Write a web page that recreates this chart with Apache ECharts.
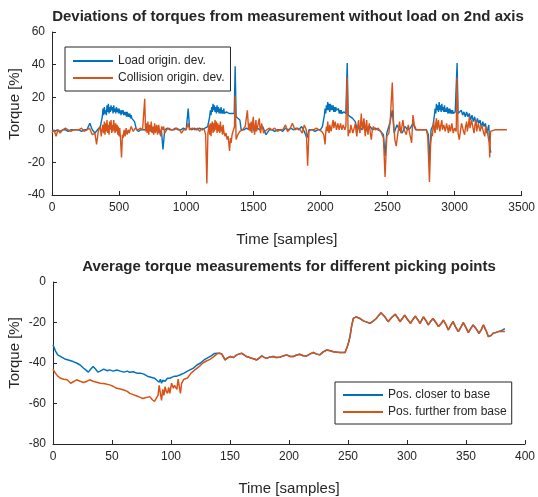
<!DOCTYPE html>
<html>
<head>
<meta charset="utf-8">
<script src="https://cdn.jsdelivr.net/npm/echarts@6/dist/echarts.min.js"></script>
<style>
  html, body { margin: 0; padding: 0; background: #fff; }
  #chart { width: 538px; height: 497px; }
</style>
</head>
<body>
<div id="chart"></div>
<script>
(() => {
    const FONT = "'Liberation Sans', Arial, sans-serif";
    const BLUE = '#0072BD';
    const ORANGE = '#D95319';
    const INK = '#262626';

    // top chart: deviations, [sample, torque %]
    const loadDev = [
        [0,0],[20,-1],[40,0],[60,-1],[80,0],[100,0],[120,-1],[140,0],[160,0],[180,0],[200,0],[220,-1],[240,0],[260,0],
        [282,4],[300,0],[320,-2],[340,0],[360,2],[375,8],[380,13],[385,9],[390,14],[395,10],[400,12],[405,9],[410,15],
        [415,11],[420,16],[425,10],[430,14],[435,11],[440,15],[445,12],[450,14],[455,10],[460,15],[465,11],[470,13],
        [475,10],[480,14],[485,11],[490,13],[495,10],[500,13],[505,10],[510,12],[515,9],[520,12],[525,10],[530,12],
        [535,9],[540,11],[545,9],[550,11],[555,8],[560,11],[565,8],[570,10],[575,8],[580,10],[585,7],[590,9],[595,7],
        [600,8],[607,6],[615,5],[630,0],[645,-1],[660,0],[680,0],[700,0],[720,2],[740,-1],[760,0],[780,2],[800,-2],
        [815,0],[827,-12],[840,0],[860,1],[880,0],[900,0],[920,1],[940,0],[960,0],[980,1],[1000,0],[1015,13],[1025,1],
        [1040,0],[1060,1],[1080,0],[1100,1],[1120,0],[1140,1],[1160,2],[1175,8],[1180,12],[1185,9],[1190,14],[1195,11],
        [1200,16],[1205,12],[1210,15],[1215,11],[1220,14],[1225,10],[1230,15],[1235,11],[1240,14],[1245,10],[1250,13],
        [1255,10],[1260,14],[1265,10],[1270,12],[1275,10],[1280,13],[1285,10],[1290,11],[1295,9],[1300,11],[1310,10],
        [1320,10],[1330,9],[1340,10],[1350,9],[1358,10],[1365,39],[1372,8],[1385,8],[1400,6],[1410,0],[1430,0],[1450,1],
        [1470,0],[1490,3],[1510,-1],[1530,1],[1550,0],[1570,2],[1595,-3],[1620,0],[1640,0],[1660,-1],[1680,0],[1700,0],
        [1720,-1],[1740,1],[1760,0],[1780,1],[1800,0],[1820,1],[1840,0],[1860,2],[1880,-1],[1900,-5],[1915,0],[1940,0],
        [1960,-1],[1980,0],[2000,0],[2015,2],[2030,9],[2035,13],[2040,10],[2045,15],[2050,12],[2055,17],[2060,12],
        [2065,16],[2070,11],[2075,16],[2080,12],[2085,15],[2090,12],[2095,15],[2100,11],[2105,14],[2110,11],[2115,14],
        [2120,12],[2125,13],[2130,11],[2135,13],[2140,10],[2145,12],[2150,10],[2155,12],[2160,10],[2165,11],[2170,10],
        [2175,11],[2180,10],[2190,10],[2200,41],[2207,9],[2220,8],[2240,7],[2260,5],[2275,0],[2290,2],[2310,0],[2330,3],
        [2350,-1],[2370,2],[2390,0],[2410,1],[2430,0],[2450,-1],[2470,-3],[2482,-16],[2495,-2],[2510,2],[2520,5],
        [2536,12],[2550,-2],[2570,3],[2590,0],[2610,-2],[2630,2],[2650,0],[2670,1],[2690,4],[2710,0],[2730,0],[2750,0],
        [2770,0],[2790,0],[2805,-3],[2813,-20],[2825,0],[2840,3],[2850,9],[2855,13],[2860,10],[2865,16],[2870,12],
        [2875,15],[2880,11],[2885,17],[2890,12],[2895,15],[2900,11],[2905,16],[2910,12],[2915,14],[2920,11],[2925,15],
        [2930,11],[2935,13],[2940,11],[2945,14],[2950,10],[2955,13],[2960,10],[2965,13],[2970,10],[2975,12],[2980,10],
        [2985,12],[2990,10],[2995,11],[3005,11],[3012,10],[3019,41],[3026,10],[3040,9],[3050,12],[3060,9],[3070,11],
        [3080,8],[3090,11],[3100,8],[3110,10],[3120,6],[3130,9],[3140,5],[3150,8],[3160,3],[3170,7],[3180,4],[3190,6],
        [3200,1],[3210,5],[3220,2],[3230,4],[3240,-2],[3255,3],[3262,-10],[3270,-14]
    ];
    const collisionDev = [
        [0,-2],[15,0],[30,-4],[45,0],[60,-2],[80,0],[100,1],[120,0],[140,-1],[160,0],[180,0],[200,0],[220,1],[240,-1],
        [260,0],[280,1],[300,-3],[320,-2],[332,-9],[345,-1],[360,2],[367,-4],[372,-1],[378,3],[385,-2],[390,5],[395,-3],
        [400,4],[405,-1],[410,6],[415,-2],[420,3],[425,-3],[430,5],[435,0],[440,6],[445,-2],[450,3],[455,-1],[460,6],
        [465,2],[470,-2],[475,4],[480,-1],[485,3],[490,-3],[495,2],[500,-4],[505,1],[510,-5],[518,-17],[525,-3],[530,-5],
        [537,0],[545,-4],[552,1],[560,-3],[568,0],[575,-2],[590,2],[605,-1],[620,1],[640,0],[660,1],[675,0],[691,19],
        [697,-1],[703,4],[709,-2],[715,5],[721,-3],[727,3],[733,-1],[740,5],[746,-2],[752,2],[758,-3],[765,4],[771,-2],
        [780,3],[787,-3],[795,3],[802,-1],[810,-4],[817,2],[825,0],[832,2],[840,-2],[855,0],[870,1],[890,0],[910,0],
        [930,1],[950,0],[965,-2],[980,0],[1000,0],[1015,4],[1025,0],[1045,1],[1065,0],[1085,1],[1100,-1],[1120,1],
        [1135,0],[1145,-3],[1154,-33],[1162,-2],[1170,3],[1175,-3],[1180,4],[1185,-4],[1190,3],[1195,5],[1200,-2],
        [1205,4],[1210,-1],[1215,6],[1220,0],[1225,5],[1230,-2],[1235,4],[1240,-1],[1245,3],[1250,-2],[1255,5],
        [1260,-1],[1265,2],[1270,-3],[1275,3],[1282,-2],[1290,-4],[1297,-2],[1305,-6],[1313,-4],[1323,-13],[1330,-5],
        [1335,-8],[1342,-3],[1350,-4],[1360,2],[1365,21],[1372,-6],[1385,-3],[1400,-1],[1420,0],[1440,2],[1456,12],
        [1465,0],[1472,4],[1478,-1],[1484,5],[1490,-2],[1495,4],[1500,8],[1505,0],[1510,-3],[1515,3],[1520,6],[1525,-1],
        [1530,1],[1537,4],[1545,7],[1550,0],[1555,-2],[1562,4],[1570,3],[1577,-2],[1585,-1],[1600,0],[1620,1],[1640,0],
        [1660,1],[1680,-1],[1700,0],[1720,0],[1740,3],[1755,-1],[1770,0],[1792,4],[1810,0],[1830,1],[1850,0],[1865,-2],
        [1880,3],[1895,0],[1905,-22],[1915,-1],[1930,0],[1950,0],[1970,1],[1990,0],[2010,-1],[2025,-3],[2035,-9],
        [2040,-2],[2045,2],[2050,-1],[2055,5],[2060,0],[2065,-2],[2070,3],[2075,4],[2080,-1],[2085,0],[2090,4],
        [2095,6],[2100,1],[2105,2],[2110,5],[2115,4],[2120,0],[2125,1],[2130,4],[2135,5],[2140,0],[2145,1],[2150,4],
        [2155,3],[2160,0],[2165,-1],[2170,3],[2175,3],[2182,0],[2190,2],[2200,32],[2207,-4],[2213,0],[2220,-2],
        [2227,3],[2235,2],[2242,-2],[2250,-3],[2255,2],[2260,4],[2266,-1],[2272,-4],[2278,2],[2285,6],[2290,0],
        [2295,-2],[2300,4],[2305,10],[2310,2],[2315,0],[2320,5],[2325,7],[2330,0],[2335,-4],[2340,3],[2345,6],
        [2350,0],[2355,-3],[2360,2],[2365,4],[2372,-2],[2380,-6],[2387,0],[2395,2],[2410,0],[2430,1],[2450,-1],
        [2470,-5],[2482,-29],[2495,-4],[2510,-2],[2520,5],[2536,29],[2545,5],[2555,-6],[2565,-10],[2578,-2],[2590,5],
        [2600,-2],[2615,6],[2625,0],[2640,-3],[2655,3],[2665,-2],[2680,-8],[2690,9],[2700,3],[2715,0],[2730,0],
        [2750,0],[2770,0],[2790,0],[2800,-4],[2813,-32],[2822,-8],[2830,-2],[2835,-4],[2840,2],[2845,5],[2850,0],
        [2855,-2],[2860,4],[2865,7],[2870,0],[2875,2],[2880,6],[2885,5],[2890,-1],[2895,0],[2900,4],[2905,6],[2910,0],
        [2915,-1],[2920,3],[2925,4],[2930,-1],[2935,1],[2940,4],[2945,5],[2950,0],[2955,-2],[2960,3],[2965,4],
        [2970,-1],[2975,0],[2980,4],[2985,3],[2990,-2],[2995,-3],[3000,1],[3005,2],[3012,-1],[3019,32],[3026,-2],
        [3035,-6],[3045,0],[3052,4],[3060,3],[3067,-1],[3075,-3],[3082,2],[3090,5],[3095,-1],[3100,0],[3105,4],
        [3110,8],[3115,1],[3120,2],[3127,6],[3135,5],[3140,0],[3145,-2],[3152,3],[3160,6],[3165,-1],[3170,0],[3177,4],
        [3185,3],[3190,-1],[3195,-2],[3202,3],[3210,2],[3217,-2],[3225,-4],[3232,2],[3240,1],[3246,-2],[3252,-3],
        [3258,-8],[3262,-17],[3268,-1],[3280,0],[3300,0],[3390,0]
    ];

    // bottom chart: average torque, [sample, torque %]
    const closerStart = [
        [0,-31],[2,-34],[4,-36],[7,-37],[10,-38],[13,-38.5],[17,-39.3],[20,-40],[23,-41],[26,-42.6],[28,-43.5],[30,-44.5],
        [32,-43],[34,-41.7],[36,-43],[38,-44.5],[40,-44],[43,-43],[46,-43.8],[48,-43.4],[51,-44],[54,-43.5],[57,-44],
        [60,-44.5],[63,-44],[65,-44.6],[68,-44.3],[71,-45],[74,-45],[77,-45.5],[80,-46.5],[83,-47],[86,-47.5],[88,-48.5],
        [90,-49.5],[91,-48],[92,-50],[93,-48.5],[95,-49],[97,-47.5],[99,-47.5],[101,-47],[103,-46.5],[105,-46.5],
        [108,-45.8],[111,-45],[114,-44],[116,-43.4],[119,-42.5],[122,-41],[125,-40],[128,-38.5],[131,-37.5],[134,-36.5],
        [137,-35.3],[139,-35.2]
    ];
    const furtherStart = [
        [0,-43],[2,-45],[4,-46.5],[6,-47.4],[9,-48],[12,-48.3],[15,-50],[18,-49],[20,-48.3],[23,-49],[26,-49.6],[29,-49],
        [31,-48.3],[34,-49],[37,-49.5],[40,-50],[44,-50.3],[48,-50.8],[51,-51.5],[54,-52.5],[57,-52.8],[60,-53.3],[63,-54],
        [65,-55],[68,-55.6],[71,-56.3],[74,-57],[76,-57.5],[79,-57],[82,-56.6],[84,-58],[86,-59],[88,-57],[89,-56],
        [90,-51],[91,-55],[92,-58.5],[93,-53],[94,-56],[95,-51.7],[96,-54],[97,-55],[98,-52],[99,-55],[100.5,-50],
        [102,-52.5],[103,-51],[105,-53],[106,-48],[108,-55],[109,-50],[111,-48],[114,-47.4],[117,-45],[120,-43.5],
        [124,-41.7],[127,-40],[130,-39],[133,-38.2],[136,-37],[139,-35.5]
    ];
    const commonTail = [
        [141,-35.2],[143,-35.5],[145.8,-38.5],[148,-37.5],[150,-36.8],[153,-37.3],[155.7,-36],[158,-35.5],[160,-35.2],
        [162,-36],[164,-36.8],[166,-37.2],[168.4,-37.7],[170.5,-38],[172.6,-38.5],[175,-37.5],[177,-36.5],[179,-37.2],
        [181,-37.7],[184,-37],[186.7,-36.8],[189,-37.3],[192,-37.2],[195,-36.5],[198,-36],[201,-36.8],[203.7,-36.8],
        [206,-36.2],[209,-35.7],[212,-36.4],[215,-36.5],[218,-35.5],[220.6,-34.8],[223,-35.5],[226,-36],[229,-34.5],
        [232,-33.6],[235,-34],[237.6,-34.4],[240,-34.6],[243,-34.8],[247.5,-34.8],[249,-34.9],[250,-31],[251.7,-27],
        [253,-22],[254.5,-18],[257,-17.2],[260,-18],[263,-19.2],[266,-19.8],[268.6,-20.4],[271,-19.5],[274,-18],
        [276,-16.5],[278,-15.2],[281,-17],[284,-19.6],[287,-17.5],[290,-15.9],[292,-17.5],[294,-19.6],[296,-18],
        [298,-16.4],[300.5,-18.5],[303,-20.4],[305,-18.5],[307,-16.9],[309,-18.5],[311,-20.4],[312.5,-18.8],[314,-17.2],
        [316,-19],[318,-21.2],[320,-19.5],[322,-18],[324.5,-20],[326.7,-22],[329,-20.5],[330.8,-18.8],[333,-21],
        [335,-23.7],[337,-21.5],[339,-19.6],[341,-22],[343.5,-24.5],[345.5,-22.5],[347.7,-20.1],[350,-22.5],[352,-25],
        [354,-23],[356,-21.2],[358.5,-23],[361,-25.3],[363,-23.5],[364.7,-21.2],[367,-24],[369,-27],[371,-26.5],
        [373,-25.3],[375,-25],[377.4,-24.5]
    ];
    const closerEnd = [[380,-24],[383,-23]];
    const furtherEnd = [[380,-24.3],[383,-24.5]];

    const TOP_TITLE = 'Deviations of torques from measurement without load on 2nd axis';
    const BOTTOM_TITLE = 'Average torque measurements for different picking points';
    const X_NAME = 'Time [samples]';
    const Y_NAME = 'Torque [%]';

    const chart = echarts.init(document.getElementById('chart'), null, { renderer: 'canvas' });

    function xAxis(gridIndex, max, interval) {
        return {
            type: 'value', gridIndex: gridIndex, min: 0, max: max, interval: interval,
            name: X_NAME, nameLocation: 'middle', nameGap: 37,
            nameTextStyle: { color: INK, fontSize: 15, fontFamily: FONT },
            axisLine: { show: true, onZero: false, lineStyle: { color: INK, width: 1 } },
            axisTick: { show: true, inside: true, length: 4, lineStyle: { color: INK } },
            axisLabel: { color: INK, fontSize: 12, fontFamily: FONT, margin: 7, formatter: v => String(v) },
            splitLine: { show: false }
        };
    }
    function yAxis(gridIndex, min, max, interval) {
        return {
            type: 'value', gridIndex: gridIndex, min: min, max: max, interval: interval,
            axisLine: { show: true, onZero: false, lineStyle: { color: INK, width: 1 } },
            axisTick: { show: true, inside: true, length: 4, lineStyle: { color: INK } },
            axisLabel: { color: INK, fontSize: 12, fontFamily: FONT, margin: 7, formatter: v => String(v) },
            splitLine: { show: false }
        };
    }
    function line(name, data, color, axis, width) {
        return {
            name: name, type: 'line', data: data, xAxisIndex: axis, yAxisIndex: axis,
            showSymbol: false, symbol: 'none', color: color,
            lineStyle: { color: color, width: width }
        };
    }
    function legend(names, left, top, padding) {
        return {
            data: names, orient: 'vertical', left: left, top: top,
            icon: 'rect', itemWidth: 40, itemHeight: 2, itemGap: 5, itemTextGap: 4,
            padding: padding, borderColor: INK, borderWidth: 1, backgroundColor: '#fff',
            textStyle: { color: INK, fontSize: 12, fontFamily: FONT }
        };
    }

    const option = {
        animation: false,
        backgroundColor: '#fff',
        title: [
            { text: TOP_TITLE, left: 288, top: 9, textAlign: 'center', padding: 0,
              textStyle: { color: INK, fontSize: 15, fontWeight: 'bold', fontFamily: FONT } },
            { text: BOTTOM_TITLE, left: 289, top: 259, textAlign: 'center', padding: 0,
              textStyle: { color: INK, fontSize: 15, fontWeight: 'bold', fontFamily: FONT } }
        ],
        grid: [
            { left: 52, right: 15, top: 32, height: 163 },
            { left: 53, right: 13, top: 282, height: 163 }
        ],
        xAxis: [xAxis(0, 3500, 500), xAxis(1, 400, 50)],
        yAxis: [yAxis(0, -40, 60, 20), yAxis(1, -80, 0, 20)],
        legend: [
            legend(['Load origin. dev.', 'Collision origin. dev.'], 65, 47, [8, 6, 7, 8]),
            legend(['Pos. closer to base', 'Pos. further from base'], 335, 382, [7, 5, 6, 8])
        ],
        graphic: [
            { type: 'text', x: 15, y: 104, rotation: Math.PI / 2,
              style: { text: Y_NAME, fill: INK, font: '15px ' + FONT, align: 'center', verticalAlign: 'middle' } },
            { type: 'text', x: 15, y: 353, rotation: Math.PI / 2,
              style: { text: Y_NAME, fill: INK, font: '15px ' + FONT, align: 'center', verticalAlign: 'middle' } }
        ],
        series: [
            line('Load origin. dev.', loadDev, BLUE, 0, 1.4),
            line('Collision origin. dev.', collisionDev, ORANGE, 0, 1.4),
            line('Pos. closer to base', closerStart.concat(commonTail, closerEnd), BLUE, 1, 1.5),
            line('Pos. further from base', furtherStart.concat(commonTail, furtherEnd), ORANGE, 1, 1.5)
        ]
    };
    chart.setOption(option);
})();
</script>
</body>
</html>
